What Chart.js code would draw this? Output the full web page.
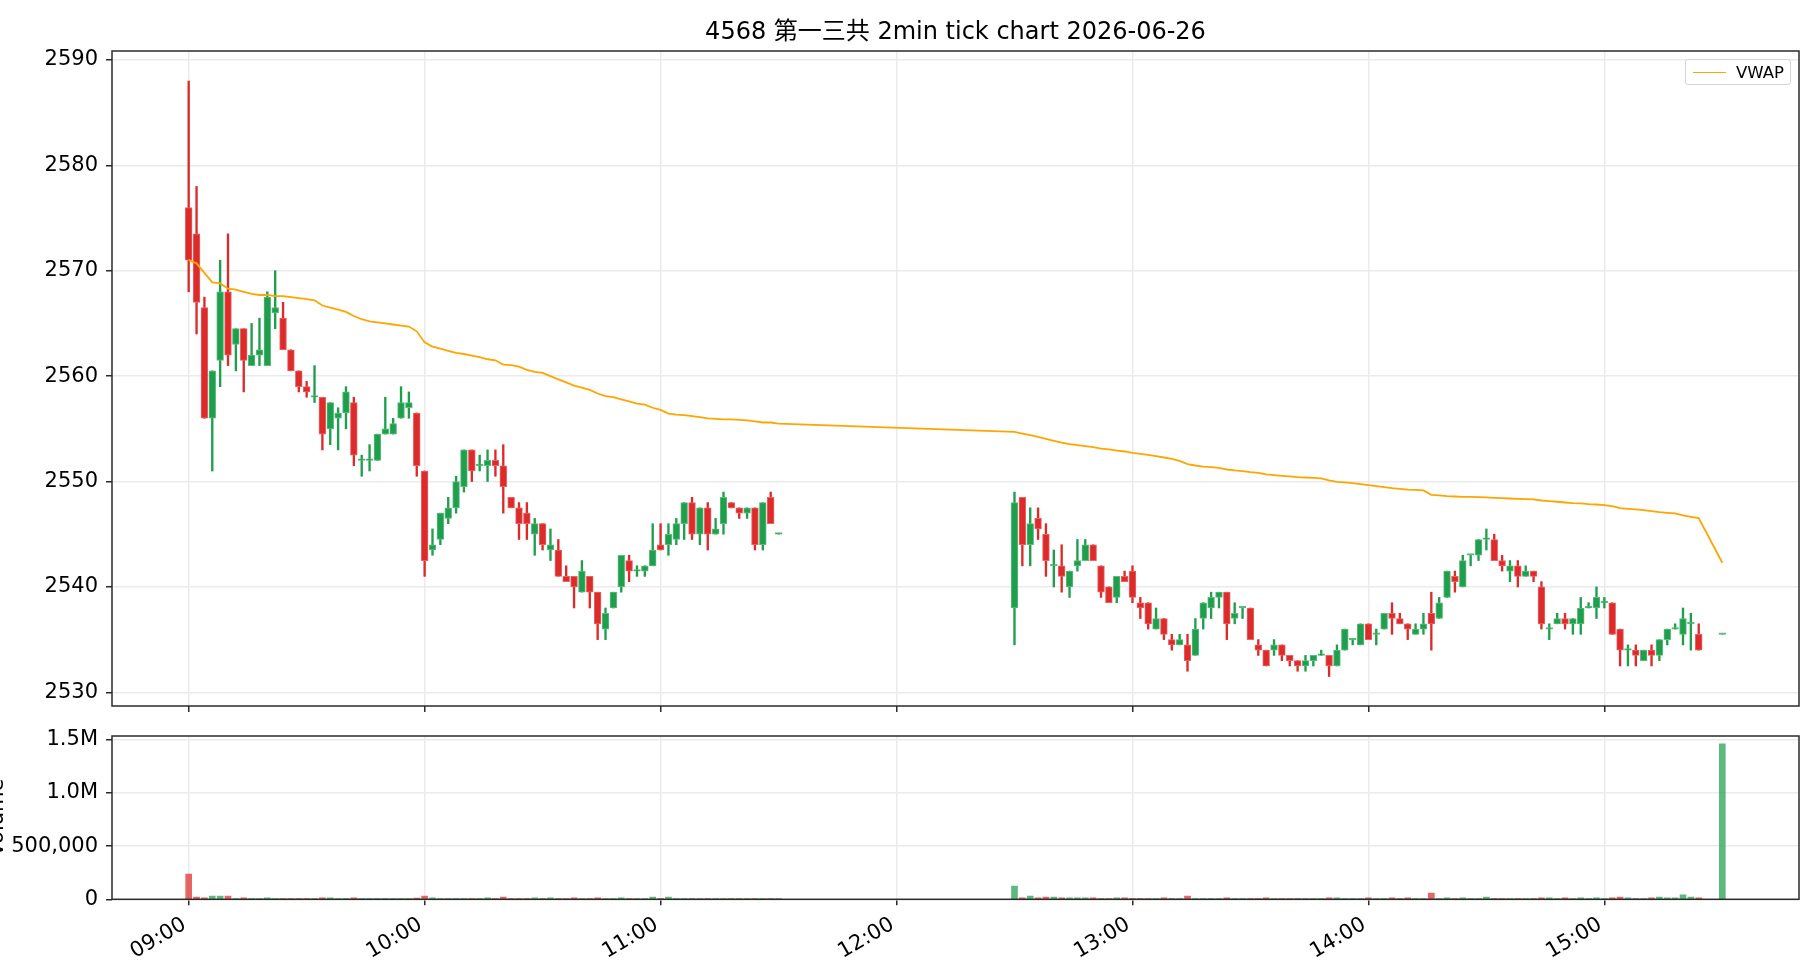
<!DOCTYPE html>
<html>
<head>
<meta charset="utf-8">
<title>4568 第一三共 2min tick chart</title>
<script src="https://cdn.jsdelivr.net/npm/chart.js@4.4.1/dist/chart.umd.min.js"></script>
<style>
  html, body { margin:0; padding:0; background:#fff; width:1820px; height:980px; overflow:hidden; }
  body { font-family:"DejaVu Sans", "Noto Sans CJK JP", sans-serif; }
  #priceBox { position:absolute; left:0; top:0; width:1820px; height:728px; }
  #volBox { position:absolute; left:0; top:712px; width:1820px; height:268px; }
  #legend {
    position:absolute; left:1685px; top:59px; width:106px; height:26px;
    box-sizing:border-box; border:1px solid #d4d4d4; border-radius:3px; background:rgba(255,255,255,.85);
    display:flex; align-items:center; font-size:16.5px; color:#000;
  }
  #legend .swatch { width:33px; height:0; border-top:1.8px solid #ffa500; margin:0 10px 0 7px; }
</style>
</head>
<body>
<div id="priceBox"><canvas id="priceChart" width="1820" height="728"></canvas></div>
<div id="volBox"><canvas id="volChart" width="1820" height="268"></canvas></div>
<div id="legend"><span class="swatch"></span><span>VWAP</span></div>

<script>
// 2分足 (前場 09:00-11:30 / 後場 12:30-15:30)
const chartTitle = "4568 第一三共 2min tick chart 2026-06-26";

const times = [
  "09:00","09:02","09:04","09:06","09:08","09:10","09:12","09:14","09:16","09:18",
  "09:20","09:22","09:24","09:26","09:28","09:30","09:32","09:34","09:36","09:38",
  "09:40","09:42","09:44","09:46","09:48","09:50","09:52","09:54","09:56","09:58",
  "10:00","10:02","10:04","10:06","10:08","10:10","10:12","10:14","10:16","10:18",
  "10:20","10:22","10:24","10:26","10:28","10:30","10:32","10:34","10:36","10:38",
  "10:40","10:42","10:44","10:46","10:48","10:50","10:52","10:54","10:56","10:58",
  "11:00","11:02","11:04","11:06","11:08","11:10","11:12","11:14","11:16","11:18",
  "11:20","11:22","11:24","11:26","11:28","11:30",
  "12:30","12:32","12:34","12:36","12:38","12:40","12:42","12:44","12:46","12:48",
  "12:50","12:52","12:54","12:56","12:58","13:00","13:02","13:04","13:06","13:08",
  "13:10","13:12","13:14","13:16","13:18","13:20","13:22","13:24","13:26","13:28",
  "13:30","13:32","13:34","13:36","13:38","13:40","13:42","13:44","13:46","13:48",
  "13:50","13:52","13:54","13:56","13:58","14:00","14:02","14:04","14:06","14:08",
  "14:10","14:12","14:14","14:16","14:18","14:20","14:22","14:24","14:26","14:28",
  "14:30","14:32","14:34","14:36","14:38","14:40","14:42","14:44","14:46","14:48",
  "14:50","14:52","14:54","14:56","14:58","15:00","15:02","15:04","15:06","15:08",
  "15:10","15:12","15:14","15:16","15:18","15:20","15:22","15:24","15:30"
];

const opens = [
  2576,2573.5,2566.5,2556,2561.5,2568,2563,2564.5,2561,2562,
  2561,2566,2565.5,2562.5,2560.5,2559,2558,2558,2555,2556,
  2556.5,2557.5,2552,2552,2552,2554.5,2554.5,2556,2557,2556.5,
  2551,2543.5,2544.5,2546.5,2547.5,2549.5,2553,2551.5,2551.5,2552,
  2551.5,2548.5,2547.5,2547,2545,2546,2543.5,2543.5,2541,2541,
  2539.5,2541,2539.5,2536,2538,2540,2542.5,2541.5,2541.5,2542,
  2544,2544,2544.5,2546,2548,2545,2547.5,2545,2546,2548,
  2547.5,2547,2547.5,2544,2548.5,2545,
  2538,2548.5,2544,2546.5,2545,2542,2542,2540,2542,2542.5,
  2544,2542,2540,2539,2541,2541.5,2538.5,2538.5,2536,2537,
  2535,2534.5,2534.5,2533.5,2537,2538,2539,2539.5,2537,2538,
  2538,2534.5,2534,2534,2534.5,2533.5,2533,2532.5,2533,2533.5,
  2533.5,2532.5,2534,2535,2534.5,2536.5,2535.5,2536,2537.5,2537,
  2536.5,2535.5,2536,2537.5,2537,2539,2541,2540,2543,2543,
  2544.5,2544.5,2542.5,2541.5,2542,2541,2541.5,2540,2536,2536.5,
  2537,2536.5,2536.5,2538,2538,2538.5,2538.5,2536,2534,2534,
  2533,2534,2533.5,2535,2536,2535.5,2536.5,2535.5,2535.5
];

const highs = [
  2588,2578,2567.5,2560.5,2571,2573.5,2564.5,2564.5,2565,2565.5,
  2568,2570,2567,2562.5,2560.5,2559.5,2561,2558,2557.5,2557,
  2559,2558,2552.5,2553.5,2554.5,2558,2556,2559,2558.5,2556.5,
  2551,2545.5,2547,2548.5,2550.5,2553,2553,2552.5,2553,2553,
  2553.5,2548.5,2548,2548,2546.5,2546,2545.5,2544.5,2542,2541,
  2542.5,2541,2539.5,2538,2539.5,2543,2543,2542,2542,2546,
  2546,2546,2546.5,2548,2548.5,2547.5,2548,2546.5,2549,2548,
  2547.5,2547.5,2547.5,2548,2549,2545,
  2549,2548.5,2547.5,2547.5,2546,2543.5,2544,2541.5,2544.5,2544.5,
  2544,2542,2540,2541,2541.5,2542,2539,2538.5,2538,2537,
  2535.5,2535.5,2535.5,2537,2538.5,2539.5,2539.5,2539.5,2538.5,2538,
  2538,2535,2534,2535,2534.5,2533.5,2533,2533.5,2533.5,2534,
  2533.5,2534.5,2536,2535,2536.5,2536.5,2536,2537.5,2538.5,2537.5,
  2536.5,2536.5,2537.5,2539.5,2539,2541.5,2541.5,2543,2543,2544.5,
  2545.5,2545,2543,2542.5,2542.5,2542,2541.5,2540.5,2536.5,2537.5,
  2537.5,2537,2539,2538.5,2540,2539,2538.5,2536,2534.5,2534.5,
  2534,2534.5,2535,2536,2536.5,2538,2537.5,2536.5,2535.5
];

const lows = [
  2568,2564,2556,2551,2559,2561,2560.5,2558.5,2561,2561,
  2561,2564.5,2562.5,2560.5,2558.5,2558,2557.5,2553,2553.5,2553,
  2555,2551.5,2550.5,2551,2552,2554.5,2554.5,2556,2556,2550.5,
  2541,2543,2544,2546,2547,2549,2550,2551,2550,2550.5,
  2547,2547.5,2544.5,2544.5,2543,2543.5,2542.5,2541,2540.5,2538,
  2539.5,2538,2535,2535,2538,2539.5,2540.5,2541,2541,2542,
  2543.5,2543,2544,2544.5,2544.5,2544,2543.5,2545,2545,2547.5,
  2546.5,2546.5,2543.5,2543.5,2546,2545,
  2534.5,2542,2542,2544.5,2541,2540,2539.5,2539,2541.5,2542.5,
  2542.5,2539,2538.5,2538.5,2540.5,2538.5,2537,2536,2536,2535,
  2534,2534.5,2532,2533.5,2536,2537,2538,2535,2536.5,2537,
  2535,2533.5,2532.5,2533.5,2533,2532.5,2532,2532,2532.5,2533.5,
  2531.5,2532.5,2534,2534.5,2534.5,2535,2534.5,2536,2535.5,2536.5,
  2535,2535.5,2535.5,2534,2537,2539,2539.5,2540,2542,2542.5,
  2543.5,2542.5,2541.5,2540.5,2540,2541,2540.5,2536,2535,2536.5,
  2536,2535.5,2535.5,2538,2537,2538,2535.5,2532.5,2532.5,2532.5,
  2533,2532.5,2533,2534.5,2536,2534.5,2534,2534,2535.5
];

const closes = [
  2571,2567,2556,2560.5,2568,2562,2564.5,2561.5,2562,2562.5,
  2567.5,2566.5,2562.5,2560.5,2559,2558.5,2558,2554.5,2557.5,2556.5,
  2558.5,2552.5,2552,2552,2554.5,2555,2555.5,2557.5,2557.5,2551.5,
  2542.5,2544,2547,2547.5,2550,2553,2551,2551.5,2552,2551.5,
  2549.5,2547.5,2546,2546,2546,2544,2544,2541,2540.5,2540,
  2541.5,2539.5,2536.5,2537.5,2539.5,2543,2541.5,2541.5,2542,2543.5,
  2543.5,2545,2546,2548,2545,2547.5,2545,2545.5,2548.5,2547.5,
  2547,2547.5,2544,2548,2546,2545,
  2548,2544,2546,2545.5,2542.5,2542,2541,2541.5,2542.5,2544,
  2542.5,2539.5,2538.5,2541,2540.5,2539,2538,2536.5,2537,2535.5,
  2534.5,2535,2533,2536,2538.5,2539,2539.5,2536.5,2537.5,2538,
  2535,2534,2532.5,2534.5,2533.5,2533,2532.5,2533,2533.5,2533.5,
  2532.5,2534,2536,2535,2536.5,2535,2535.5,2537.5,2537,2536.5,
  2536,2536,2536.5,2536.5,2538.5,2541.5,2540.5,2542.5,2543,2544.5,
  2544.5,2542.5,2542,2542,2541,2541.5,2541,2536.5,2536,2537,
  2536.5,2537,2538,2538,2539,2538.5,2535.5,2534,2534,2533.5,
  2534,2533.5,2535,2536,2536,2537,2536.5,2534,2535.5
];

const volumes = [
  237000,22000,13000,31000,31000,31000,6000,13000,5000,7000,
  13000,6000,5000,4000,5000,4000,5000,13000,13000,6000,
  5000,13000,5000,4000,5000,4000,5000,6000,5000,12000,
  31000,13000,6000,5000,4000,6000,5000,4000,13000,5000,
  22000,5000,4000,6000,13000,5000,13000,4000,5000,13000,
  5000,4000,13000,5000,6000,13000,5000,4000,5000,22000,
  6000,22000,5000,6000,5000,4000,5000,4000,6000,3000,
  4000,3000,5000,6000,5000,3000,
  125000,13000,31000,13000,22000,22000,13000,13000,13000,13000,
  13000,5000,4000,13000,13000,5000,4000,5000,6000,13000,
  5000,4000,31000,5000,4000,6000,5000,13000,5000,4000,
  5000,4000,13000,5000,4000,5000,4000,5000,6000,4000,
  13000,13000,5000,4000,5000,13000,5000,4000,13000,5000,
  13000,5000,6000,59000,5000,13000,4000,13000,5000,4000,
  22000,5000,4000,6000,5000,4000,5000,13000,13000,5000,
  13000,5000,13000,5000,13000,6000,13000,22000,13000,5000,
  6000,13000,22000,13000,13000,41000,22000,13000,1463000
];

const vwap = [
  2571.0,2570.7,2569.8,2568.9,2568.8,2568.3,2568.2,2568.0,2567.8,2567.7,
  2567.7,2567.6,2567.6,2567.5,2567.4,2567.3,2567.2,2566.7,2566.5,2566.3,
  2566.1,2565.7,2565.4,2565.2,2565.1,2565.0,2564.9,2564.8,2564.7,2564.25,
  2563.2,2562.8,2562.6,2562.4,2562.2,2562.1,2561.95,2561.8,2561.6,2561.5,
  2561.1,2561.05,2560.9,2560.6,2560.4,2560.3,2560.0,2559.7,2559.4,2559.1,
  2558.9,2558.7,2558.35,2558.1,2558.0,2557.8,2557.6,2557.4,2557.3,2557.0,
  2556.8,2556.45,2556.35,2556.3,2556.2,2556.1,2556.0,2555.95,2555.9,2555.9,
  2555.85,2555.8,2555.7,2555.6,2555.6,2555.5,
  2554.71,2554.55,2554.4,2554.24,2554.05,2553.86,2553.7,2553.54,2553.45,2553.35,
  2553.26,2553.13,2553.04,2552.94,2552.85,2552.72,2552.63,2552.53,2552.4,2552.28,
  2552.15,2551.96,2551.65,2551.52,2551.42,2551.36,2551.3,2551.14,2551.05,2550.98,
  2550.89,2550.82,2550.67,2550.6,2550.54,2550.48,2550.41,2550.38,2550.35,2550.29,
  2550.1,2549.97,2549.91,2549.85,2549.75,2549.66,2549.56,2549.47,2549.37,2549.31,
  2549.24,2549.21,2549.15,2548.74,2548.68,2548.61,2548.58,2548.55,2548.55,2548.52,
  2548.49,2548.45,2548.42,2548.39,2548.36,2548.33,2548.3,2548.2,2548.14,2548.08,
  2548.01,2547.95,2547.92,2547.85,2547.82,2547.76,2547.66,2547.47,2547.41,2547.35,
  2547.29,2547.19,2547.1,2547.03,2546.97,2546.78,2546.65,2546.53,2542.29
];

const hourTicks = ["09:00","10:00","11:00","12:00","13:00","14:00","15:00"];
const priceTicks = [2530, 2540, 2550, 2560, 2570, 2580, 2590];
const volTicks = [0, 500000, 1000000, 1500000];
const volTickLabels = ["0", "500,000", "1.0M", "1.5M"];

// colours
const UP = "#1f9f4d", UP_EDGE = "#5cbd7e";
const DOWN = "#dd2a2a", DOWN_EDGE = "#e86464";
const UP_VOL = "rgba(31,159,77,0.72)", DOWN_VOL = "rgba(221,42,42,0.72)";
const FONT = '"DejaVu Sans", "Noto Sans CJK JP", sans-serif';

function toMin(t) {
  const p = t.split(":").map(Number);
  return (p[0] - 9) * 60 + p[1];
}

const xs = times.map(toMin);
const up = closes.map((c, i) => c >= opens[i]);

Chart.defaults.font.family = FONT;
Chart.defaults.color = "#000";
Chart.defaults.animation = false;

// matplotlib-like box around the axes
const frame = {
  id: "frame",
  afterDraw(chart) {
    const {ctx, chartArea: a} = chart;
    ctx.save();
    ctx.strokeStyle = "#2b2b2b";
    ctx.lineWidth = 1.5;
    ctx.strokeRect(a.left, a.top, a.right - a.left, a.bottom - a.top);
    ctx.restore();
  }
};

const gridOpts = {color: "#ebebeb", lineWidth: 1.5, tickColor: "#2b2b2b", tickLength: 6, tickWidth: 1.5};
const xRange = {min: -19.5, max: 409.5};

document.addEventListener("DOMContentLoaded", () => {

  const price = document.getElementById("priceChart");
  if (price) {
    new Chart(price, {
      type: "bar",
      data: {
        datasets: [{
          type: "line",
          label: "VWAP",
          data: xs.map((x, i) => ({x: x, y: vwap[i]})),
          borderColor: "#ffa500",
          borderWidth: 1.8,
          pointRadius: 0,
          tension: 0,
          order: 0
        }, {
          label: "body",
          data: xs.map((x, i) => ({x: x, y: [opens[i], closes[i]]})),
          backgroundColor: up.map(u => u ? UP : DOWN),
          borderColor: up.map(u => u ? UP_EDGE : DOWN_EDGE),
          borderWidth: 1,
          borderSkipped: false,
          barThickness: 6.8,
          minBarLength: 1.6,
          grouped: false,
          order: 1
        }, {
          label: "wick",
          data: xs.map((x, i) => ({x: x, y: [lows[i], highs[i]]})),
          backgroundColor: up.map(u => u ? UP : DOWN),
          borderWidth: 0,
          barThickness: 1.7,
          grouped: false,
          order: 2
        }]
      },
      options: {
        responsive: false,
        events: [],
        layout: {padding: {left: 0, right: 21, top: 0, bottom: 16}},
        plugins: {
          legend: {display: false},
          tooltip: {enabled: false},
          title: {
            display: true, text: chartTitle, fullSize: false, color: "#000",
            font: {size: 24, weight: "normal", family: FONT},
            padding: {top: 18.5, bottom: 3.7}
          }
        },
        scales: {
          x: {
            type: "linear", min: xRange.min, max: xRange.max, offset: false,
            afterBuildTicks: s => { s.ticks = hourTicks.map(t => ({value: toMin(t)})); },
            afterFit: s => { s.height = 6; },
            grid: Object.assign({offset: false}, gridOpts),
            border: {display: false},
            ticks: {display: false}
          },
          y: {
            type: "linear", min: 2528.7, max: 2590.85, beginAtZero: false,
            afterBuildTicks: s => { s.ticks = priceTicks.map(v => ({value: v})); },
            afterFit: s => { s.width = 112; },
            grid: gridOpts,
            border: {display: false},
            ticks: {color: "#000", font: {size: 21}, padding: 8, callback: v => String(v)}
          }
        }
      },
      plugins: [frame]
    });
  }

  const vol = document.getElementById("volChart");
  if (vol) {
    new Chart(vol, {
      type: "bar",
      data: {
        datasets: [{
          label: "Volume",
          data: xs.map((x, i) => ({x: x, y: volumes[i]})),
          backgroundColor: up.map(u => u ? UP_VOL : DOWN_VOL),
          borderWidth: 0,
          barThickness: 6,
          grouped: false
        }]
      },
      options: {
        responsive: false,
        events: [],
        layout: {padding: {left: 0, right: 21, top: 24, bottom: 0}},
        plugins: {legend: {display: false}, tooltip: {enabled: false}},
        scales: {
          x: {
            type: "linear", min: xRange.min, max: xRange.max, offset: false,
            afterBuildTicks: s => { s.ticks = hourTicks.map(t => ({value: toMin(t)})); },
            afterFit: s => { s.height = 80.7; },
            grid: Object.assign({offset: false}, gridOpts),
            border: {display: false},
            ticks: {
              color: "#000", font: {size: 21}, autoSkip: false,
              maxRotation: 30, minRotation: 30, padding: 7, labelOffset: -4,
              callback: (v, i) => hourTicks[i]
            }
          },
          y: {
            type: "linear", min: 0, max: 1536000,
            afterBuildTicks: s => { s.ticks = volTicks.map(v => ({value: v})); },
            afterFit: s => { s.width = 112; },
            grid: gridOpts,
            border: {display: false},
            title: {display: true, text: "Volume", color: "#000", font: {size: 21}, padding: {top: -15, bottom: 0}},
            ticks: {color: "#000", font: {size: 21}, padding: 8, callback: (v, i) => volTickLabels[i]}
          }
        }
      },
      plugins: [frame]
    });
  }

});
</script>
</body>
</html>
